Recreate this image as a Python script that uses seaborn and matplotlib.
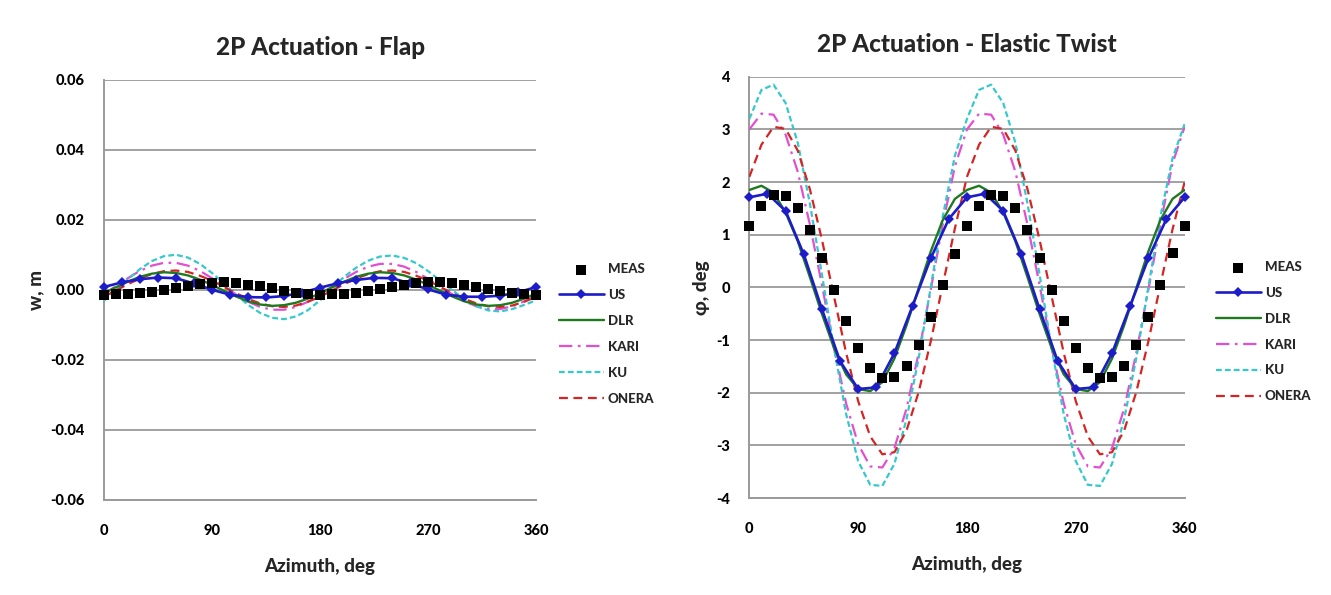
import matplotlib
matplotlib.use("Agg")
import matplotlib.pyplot as plt
import seaborn as sns
import pandas as pd

# ---------------- data ----------------
psi10 = list(range(0, 361, 10))
psi15 = list(range(0, 361, 15))
x_ticks = [0, 45, 90, 135, 180, 225, 270, 315, 360]
x_ticklabels = ["0", "", "90", "", "180", "", "270", "", "360"]

series_names = ["MEAS", "US", "DLR", "KARI", "KU", "ONERA"]

flap_meas = [-0.0014, -0.0013, -0.0011, -0.0009, -0.0005, 0.0000, 0.0006, 0.0012, 0.0017, 0.0020,
             0.0021, 0.0019, 0.0015, 0.0010, 0.0004, -0.0003, -0.0008, -0.0012, -0.0014,
             -0.0013, -0.0011, -0.0008, -0.0004, 0.0001, 0.0007, 0.0013, 0.0018, 0.0021,
             0.0021, 0.0019, 0.0014, 0.0009, 0.0003, -0.0003, -0.0008, -0.0012, -0.0014]
flap_us = [0.0008, 0.0021, 0.0030, 0.0035, 0.0033, 0.0018, 0.0000, -0.0014, -0.0021, -0.0022,
           -0.0018, -0.0008, 0.0006, 0.0019, 0.0028, 0.0034, 0.0033, 0.0018, 0.0001, -0.0014,
           -0.0020, -0.0020, -0.0017, -0.0007, 0.0008]
flap_dlr = [-0.0010, 0.0007, 0.0023, 0.0037, 0.0046, 0.0050, 0.0048, 0.0041, 0.0029, 0.0014,
            -0.0003, -0.0019, -0.0033, -0.0042, -0.0046, -0.0044, -0.0037, -0.0025, -0.0010,
            0.0007, 0.0023, 0.0037, 0.0046, 0.0050, 0.0048, 0.0041, 0.0029, 0.0014,
            -0.0003, -0.0019, -0.0033, -0.0042, -0.0046, -0.0044, -0.0037, -0.0025, -0.0010]
flap_kari = [-0.0013, 0.0010, 0.0033, 0.0054, 0.0069, 0.0077, 0.0077, 0.0069, 0.0054, 0.0033,
             0.0010, -0.0013, -0.0034, -0.0049, -0.0057, -0.0057, -0.0049, -0.0034, -0.0013,
             0.0009, 0.0031, 0.0051, 0.0066, 0.0074, 0.0074, 0.0066, 0.0051, 0.0031,
             0.0009, -0.0013, -0.0033, -0.0047, -0.0055, -0.0055, -0.0047, -0.0033, -0.0013]
flap_ku = [-0.0032, -0.0002, 0.0030, 0.0059, 0.0082, 0.0096, 0.0100, 0.0092, 0.0074, 0.0048,
           0.0018, -0.0014, -0.0043, -0.0066, -0.0080, -0.0084, -0.0076, -0.0058, -0.0030,
           0.0005, 0.0037, 0.0063, 0.0083, 0.0095, 0.0098, 0.0091, 0.0076, 0.0053,
           0.0026, -0.0001, -0.0027, -0.0047, -0.0059, -0.0062, -0.0055, -0.0043, -0.0030]
flap_onera = [-0.0020, -0.0002, 0.0016, 0.0032, 0.0045, 0.0053, 0.0055, 0.0051, 0.0040, 0.0026,
              0.0008, -0.0010, -0.0026, -0.0039, -0.0047, -0.0049, -0.0045, -0.0034, -0.0020,
              -0.0002, 0.0016, 0.0032, 0.0045, 0.0053, 0.0055, 0.0051, 0.0040, 0.0026,
              0.0008, -0.0010, -0.0026, -0.0039, -0.0047, -0.0049, -0.0045, -0.0034, -0.0020]

twist_meas = [1.17, 1.55, 1.76, 1.73, 1.50, 1.09, 0.56, -0.05, -0.64, -1.15,
              -1.53, -1.72, -1.71, -1.49, -1.10, -0.56, 0.05, 0.64, 1.17,
              1.55, 1.76, 1.73, 1.50, 1.09, 0.56, -0.05, -0.64, -1.15,
              -1.53, -1.72, -1.71, -1.49, -1.10, -0.56, 0.05, 0.65, 1.17]
twist_us = [1.71, 1.78, 1.45, 0.63, -0.41, -1.40, -1.93, -1.90, -1.25, -0.35, 0.55, 1.30,
            1.71, 1.78, 1.45, 0.63, -0.41, -1.40, -1.93, -1.90, -1.25, -0.35, 0.55, 1.30, 1.71]
twist_dlr = [1.85, 1.93, 1.80, 1.42, 0.88, 0.20, -0.50, -1.15, -1.65, -1.93,
             -1.97, -1.80, -1.35, -0.72, -0.02, 0.68, 1.28, 1.68, 1.85,
             1.93, 1.80, 1.42, 0.88, 0.20, -0.50, -1.15, -1.65, -1.93,
             -1.97, -1.80, -1.35, -0.72, -0.02, 0.68, 1.28, 1.68, 1.85]
twist_kari = [3.00, 3.30, 3.28, 2.90, 2.20, 1.20, 0.05, -1.15, -2.20, -2.98,
              -3.40, -3.42, -3.05, -2.30, -1.25, -0.05, 1.20, 2.30, 3.00,
              3.30, 3.28, 2.90, 2.20, 1.20, 0.05, -1.15, -2.20, -2.98,
              -3.40, -3.42, -3.05, -2.30, -1.25, -0.05, 1.20, 2.35, 3.05]
twist_ku = [3.20, 3.75, 3.85, 3.50, 2.75, 1.60, 0.25, -1.15, -2.40, -3.30,
            -3.75, -3.77, -3.35, -2.50, -1.35, 0.00, 1.35, 2.50, 3.20,
            3.75, 3.85, 3.50, 2.75, 1.60, 0.25, -1.15, -2.40, -3.30,
            -3.75, -3.77, -3.35, -2.50, -1.35, 0.00, 1.35, 2.45, 3.10]
twist_onera = [2.10, 2.71, 3.05, 3.01, 2.60, 1.87, 0.91, -0.17, -1.24, -2.16,
               -2.83, -3.17, -3.13, -2.72, -1.99, -1.03, 0.05, 1.12, 2.10,
               2.71, 3.05, 3.01, 2.60, 1.87, 0.91, -0.17, -1.24, -2.16,
               -2.83, -3.17, -3.13, -2.72, -1.99, -1.03, 0.05, 1.10, 2.00]

flap_yticks = [-0.06, -0.04, -0.02, 0.00, 0.02, 0.04, 0.06]
flap_yticklabels = ["-0.06", "-0.04", "-0.02", "0.00", "0.02", "0.04", "0.06"]
twist_yticks = [-4, -3, -2, -1, 0, 1, 2, 3, 4]
twist_yticklabels = ["-4", "-3", "-2", "-1", "0", "1", "2", "3", "4"]

# ---------------- style ----------------
sns.set_theme(style="white")
plt.rcParams["font.family"] = ["Lato", "DejaVu Sans"]
plt.rcParams["font.weight"] = "bold"
W = "black"

colors = {"MEAS": "black", "US": "#1c1cc8", "DLR": "#1f7a1f",
          "KARI": "#e24fd0", "KU": "#35c8cc", "ONERA": "#d42424"}
lstyles = {"US": "-", "DLR": "-", "KARI": (0, (6, 2.5, 1.2, 2.5)),
           "KU": (0, (2.6, 1.4)), "ONERA": (0, (4, 2.5))}

fig = plt.figure(figsize=(13.31, 5.95), dpi=100)
ax1 = fig.add_axes([0.078, 0.160, 0.325, 0.706])
ax2 = fig.add_axes([0.563, 0.163, 0.327, 0.708])


def draw(ax, meas, us, dlr, kari, ku, onera):
    sns.scatterplot(x=psi10, y=meas, ax=ax, color="black", marker="s", s=52,
                    edgecolor="black", linewidth=0, label="MEAS", zorder=6, clip_on=False)
    sns.lineplot(x=psi15, y=us, ax=ax, color=colors["US"], lw=1.9, marker="D",
                 markersize=5, markeredgewidth=0, label="US", zorder=5, clip_on=False)
    sns.lineplot(x=psi10, y=dlr, ax=ax, color=colors["DLR"], lw=1.7,
                 label="DLR", zorder=4)
    sns.lineplot(x=psi10, y=kari, ax=ax, color=colors["KARI"], lw=1.6,
                 linestyle=lstyles["KARI"], label="KARI", zorder=3)
    sns.lineplot(x=psi10, y=ku, ax=ax, color=colors["KU"], lw=1.6,
                 linestyle=lstyles["KU"], label="KU", zorder=3)
    sns.lineplot(x=psi10, y=onera, ax=ax, color=colors["ONERA"], lw=1.6,
                 linestyle=lstyles["ONERA"], label="ONERA", zorder=3)


draw(ax1, flap_meas, flap_us, flap_dlr, flap_kari, flap_ku, flap_onera)
draw(ax2, twist_meas, twist_us, twist_dlr, twist_kari, twist_ku, twist_onera)

for ax, yt, ytl, ylim, title, ylabel, leg_x in [
        (ax1, flap_yticks, flap_yticklabels, (-0.06, 0.06), "2P Actuation - Flap", "w, m", 1.04),
        (ax2, twist_yticks, twist_yticklabels, (-4, 4), "2P Actuation - Elastic Twist", "φ, deg", 1.06)]:
    ax.set_xlim(0, 360)
    ax.set_ylim(*ylim)
    ax.set_xticks(x_ticks)
    ax.set_xticklabels(x_ticklabels, fontsize=10.5, fontweight=W)
    ax.set_yticks(yt)
    ax.set_yticklabels(ytl, fontsize=10.5, fontweight=W)
    ax.yaxis.grid(True, color="#9a9a9a", lw=1.3)
    ax.xaxis.grid(False)
    ax.set_axisbelow(True)
    for s in ["top", "right"]:
        ax.spines[s].set_visible(False)
    for s in ["left", "bottom"]:
        ax.spines[s].set_color("#9a9a9a")
        ax.spines[s].set_linewidth(1.4)
    ax.tick_params(axis="x", which="major", direction="inout", length=7, width=1.2,
                   color="#9a9a9a", pad=14, labelcolor="black")
    ax.tick_params(axis="y", which="major", length=0, pad=14, labelcolor="black")
    ax.set_title(title, fontsize=17.5, fontweight=W, pad=18)
    ax.set_xlabel("Azimuth, deg", fontsize=13.5, fontweight=W, labelpad=14)
    ax.set_ylabel(ylabel, fontsize=13.5, fontweight=W, labelpad=4)
    handles, labels = ax.get_legend_handles_labels()
    leg = ax.legend(handles, labels, loc="center left", bbox_to_anchor=(leg_x, 0.395),
                    frameon=False, fontsize=9.5, handlelength=3.4, handletextpad=0.3,
                    labelspacing=1.05, borderaxespad=0)
    for t in leg.get_texts():
        t.set_fontweight(W)

fig.savefig("out.png", dpi=100)
